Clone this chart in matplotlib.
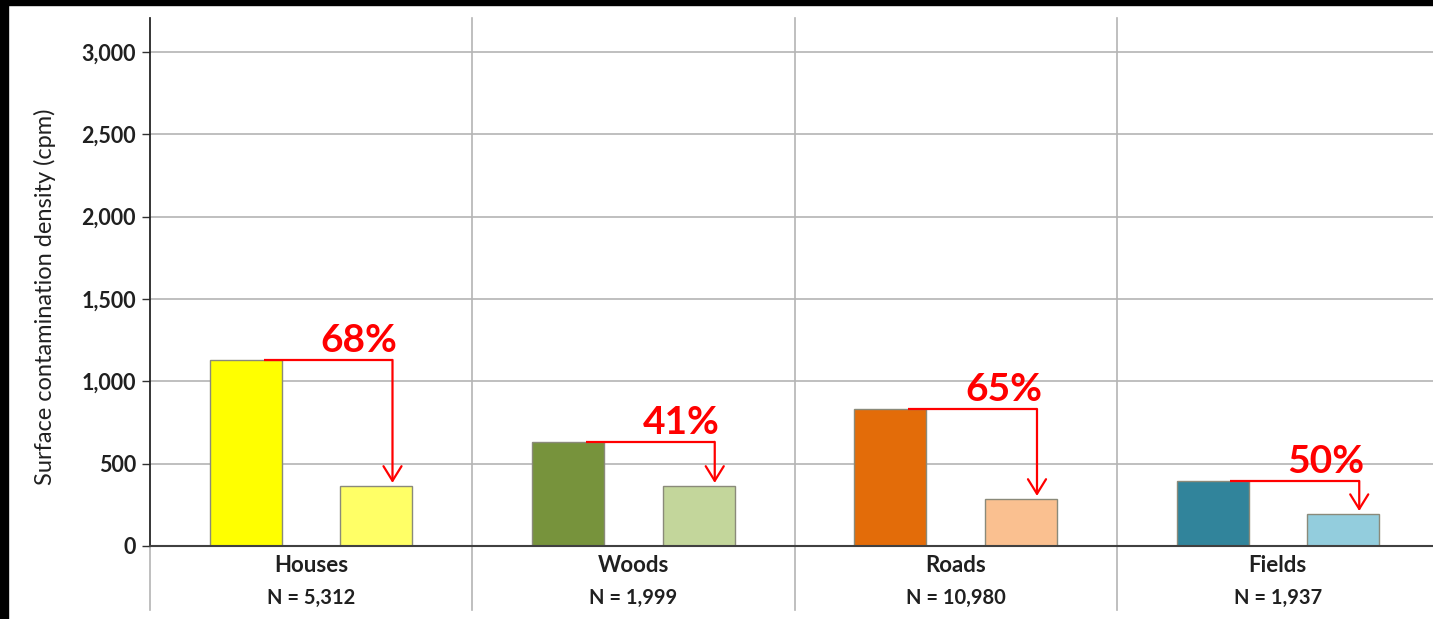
import matplotlib
matplotlib.use('Agg')
import matplotlib.pyplot as plt
from matplotlib.patches import Rectangle

plt.rcParams['font.family'] = ['Lato', 'DejaVu Sans']

# data (cpm)
categories = ['Houses', 'Woods', 'Roads', 'Fields']
sample_sizes = ['N = 5,312', 'N = 1,999', 'N = 10,980', 'N = 1,937']
before_values = [1130, 632, 832, 395]
after_values = [365, 365, 286, 194]
reductions = ['68%', '41%', '65%', '50%']
before_colors = ['#FFFF00', '#77933C', '#E36C09', '#31849B']
after_colors = ['#FFFF66', '#C3D69B', '#FAC090', '#93CDDD']
y_ticks = [0, 500, 1000, 1500, 2000, 2500, 3000]
y_tick_labels = ['0', '500', '1,000', '1,500', '2,000', '2,500', '3,000']

W, H = 1433, 619
fig = plt.figure(figsize=(W / 100, H / 100), dpi=100)
fig.patch.set_facecolor('white')

# axes box in pixels: left 150, right 1439 (cut by the picture edge), top 18, bottom 546
ax = fig.add_axes([150 / W, (H - 546) / H, (1439 - 150) / W, (546 - 18) / H])
ymax = 3206
ax.set_xlim(-0.5, 3.5)
ax.set_ylim(0, ymax)

px = ymax / (546 - 18)   # data units per pixel in y

grid_c = '#b4b4b4'
for t in y_ticks[1:]:
    ax.axhline(t, color=grid_c, lw=1.2, zorder=0)

# category separators, they run below the axis like in Excel
for i in range(4):
    ax.plot([i - 0.5, i - 0.5], [-(610 - 546) * px, ymax], color=grid_c, lw=1.2,
            clip_on=False, zorder=0)

off = 0.2025
bw = 0.224
x = list(range(len(categories)))
ax.bar([v - off for v in x], before_values, width=bw, color=before_colors,
       edgecolor='#8a8a7a', linewidth=1, zorder=2)
ax.bar([v + off for v in x], after_values, width=bw, color=after_colors,
       edgecolor='#8a8a7a', linewidth=1, zorder=2)

# reduction arrows
for i in x:
    x0 = i - off + 0.055
    x1 = i + off + 0.05
    y0 = before_values[i]
    y1 = after_values[i] + 3 * px
    ax.plot([x0, x1], [y0, y0], color='red', lw=1.6, zorder=3,
            solid_capstyle='butt')
    ax.annotate('', xy=(x1, y1), xytext=(x1, y0),
                arrowprops=dict(arrowstyle='->, head_length=0.42, head_width=0.26',
                                color='red', lw=1.6, mutation_scale=25,
                                shrinkA=0, shrinkB=0), zorder=3)
    ax.text(x1 + 0.016, y0 + 8 * px, reductions[i], color='red', fontsize=28,
            fontweight='bold', ha='right', va='baseline', zorder=4)
    ax.text(i, -(565 - 546) * px, categories[i], ha='center', va='center',
            fontsize=16, fontweight='bold', color='#202020', clip_on=False)
    ax.text(i, -(598 - 546) * px, sample_sizes[i], ha='center', va='center',
            fontsize=14.5, fontweight='bold', color='#202020', clip_on=False)

ax.set_yticks(y_ticks)
ax.set_yticklabels(y_tick_labels, fontsize=15.5, fontweight='bold', color='#202020')
ax.tick_params(axis='y', length=6, width=1, pad=4, color='#303030')
ax.set_xticks([])

for s in ['top', 'right']:
    ax.spines[s].set_visible(False)
ax.spines['left'].set_color('#202020')
ax.spines['bottom'].set_color('#404040')
ax.spines['left'].set_linewidth(1.2)
ax.spines['bottom'].set_linewidth(1.5)

fig.text(45 / W, (H - 297) / H, 'Surface contamination density (cpm)', rotation=90,
         ha='center', va='center', fontsize=17, color='#202020')

# black frame strips on top and left of the original screenshot
fig.patches.append(Rectangle((0, (H - 5) / H), 1, 5 / H, transform=fig.transFigure,
                             color='black', zorder=10))
fig.patches.append(Rectangle((0, 0), 8 / W, 1, transform=fig.transFigure,
                             color='black', zorder=10))

fig.savefig('out.png', dpi=100)
